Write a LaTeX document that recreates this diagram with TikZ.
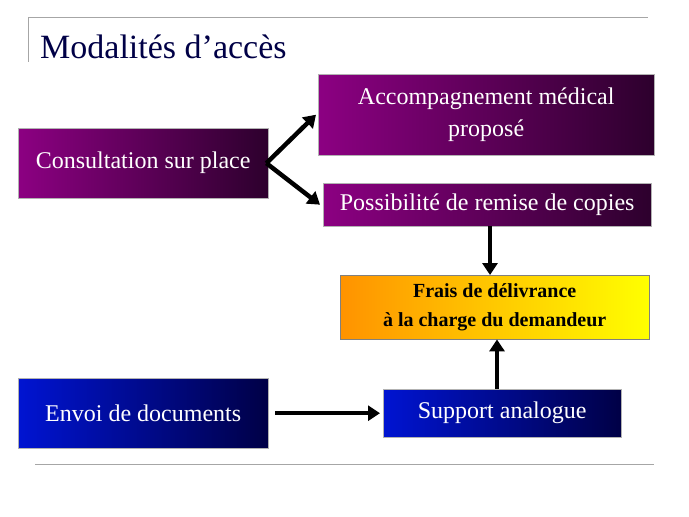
\documentclass[tikz,border=0pt]{standalone}
\usepackage{fontspec}
\setmainfont{Liberation Serif}
\usepackage{tikz}
\usepackage{xcolor}
\usetikzlibrary{arrows.meta}

\definecolor{plumlight}{RGB}{140,0,130}
\definecolor{plumdark}{RGB}{45,0,45}
\definecolor{navylight}{RGB}{0,20,210}
\definecolor{navydark}{RGB}{0,0,70}

\begin{document}
\begin{tikzpicture}[x=1pt, y=-1pt,
  purplebox/.style={draw=gray!60, shading angle=135, left color=plumlight, right color=plumdark,
    text=white, font=\fontsize{24}{32}\selectfont, align=center, anchor=north west, inner sep=0pt},
  bluebox/.style={purplebox, left color=navylight, right color=navydark},
  fraisbox/.style={draw=gray, shading angle=60, left color=orange!85!yellow, right color=yellow,
    text=black, font=\fontsize{20}{29}\selectfont\bfseries, align=center, anchor=north west, inner sep=0pt},
  thickarrow/.style={line width=4.5pt, -{Triangle[length=12pt,width=15pt]}}]
  \useasboundingbox (0,0) rectangle (689,517);

  \draw[gray!70, line width=1pt] (28,17) -- (648,17);
  \draw[gray!70, line width=1pt] (28,17) -- (28,62);
  \draw[gray!70, line width=1pt] (35,464) -- (654,464);
  \node[anchor=base west, text=navydark, font=\fontsize{34}{38}\selectfont, inner sep=0pt] (title) at (40,58) {Modalités d’accès};

  \node[purplebox, minimum width=250pt, minimum height=70pt] (consult) at (18,128) {Consultation sur place};
  \node[purplebox, minimum width=336pt, minimum height=81pt] (accomp) at (318,74) {Accompagnement médical\\proposé};
  \node[purplebox, minimum width=328pt, minimum height=43pt] (copies) at (323,183) {Possibilité de remise de copies};
  \node[fraisbox, minimum width=309pt, minimum height=64pt] (frais) at (340,275) {Frais de délivrance\\à la charge du demandeur};
  \node[bluebox, minimum width=250pt, minimum height=70pt] (envoi) at (18,378) {Envoi de documents};
  \node[bluebox, minimum width=238pt, minimum height=48pt] (support) at (383,389) {Support analogue};

  \draw[thickarrow] ([xshift=-2pt]consult.east) -- ([xshift=-2pt]accomp.west);
  \draw[thickarrow] ([xshift=-2pt]consult.east) -- ([xshift=-3pt]copies.west);
  \draw[thickarrow] (copies.south -| 490,0) -- (frais.north -| 490,0);
  \draw[thickarrow] (support.north -| 497,0) -- (frais.south -| 497,0);
  \draw[thickarrow] ([xshift=7pt]envoi.east) -- ([xshift=-3pt]support.west);
\end{tikzpicture}
\end{document}
